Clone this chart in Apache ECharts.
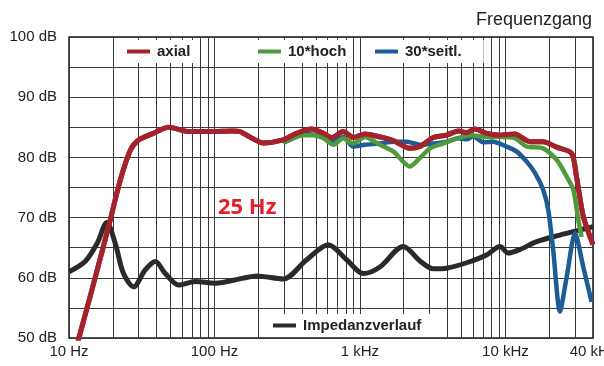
<!DOCTYPE html>
<html>
<head>
<meta charset="utf-8">
<script src="https://cdn.jsdelivr.net/npm/echarts@6/dist/echarts.min.js"></script>
<style>html,body{margin:0;padding:0;background:#fff;}#c{width:604px;height:366px;}</style>
</head>
<body>
<div id="c"></div>
<script>
// ---- data (frequency in Hz, level in dB) ----
const axialFreq = [10, 11.7, 15.2, 19.2, 22.5, 26.4, 30.1, 37.2, 48.4, 66.5, 96, 132, 150, 175, 216, 297, 367, 466, 560, 639, 767, 899, 1081, 1371, 1693, 2206, 2585, 3190, 3943, 4740, 5410, 6170, 7420, 9170, 11600, 14700, 18200, 22500, 28500, 30800, 34300, 40000];
const axialDb   = [44, 50, 60.2, 69.6, 76.2, 81.2, 82.9, 83.9, 85.0, 84.3, 84.3, 84.4, 84.3, 83.4, 82.4, 82.9, 84.0, 84.7, 84.0, 83.3, 84.3, 83.3, 83.9, 83.4, 82.8, 81.5, 81.8, 83.3, 83.7, 84.4, 84.1, 84.7, 84.0, 83.7, 83.9, 82.6, 82.6, 81.7, 80.7, 76.8, 70.2, 65.5];

const hochFreq = [297, 408, 477, 560, 656, 767, 899, 1081, 1371, 1693, 2206, 2585, 3030, 3720, 4740, 5750, 7420, 9170, 11600, 14000, 18200, 22500, 26400, 29300, 31700, 33400];
const hochDb   = [82.5, 83.7, 83.7, 83.2, 82.1, 83.2, 82.3, 83.4, 82.1, 81.0, 78.5, 79.9, 81.5, 82.3, 83.2, 83.7, 83.4, 83.4, 83.2, 81.8, 81.5, 79.6, 76.8, 74.6, 69.6, 66.8];

const seitlFreq = [297, 430, 560, 639, 767, 899, 1081, 1371, 1693, 2100, 2585, 3190, 3943, 4740, 5410, 6000, 7050, 8240, 10200, 11900, 14000, 16000, 18200, 19700, 21300, 23700, 26400, 30100, 34300, 39100];
const seitlDb   = [82.4, 83.9, 83.4, 82.6, 83.4, 81.8, 82.1, 82.3, 82.6, 82.6, 82.1, 82.3, 82.6, 83.2, 83.0, 83.5, 82.5, 82.6, 81.8, 81.0, 79.3, 77.4, 74.6, 71.3, 64.6, 54.4, 60.2, 67.4, 61.8, 56.0];

const impFreq = [10, 12.9, 15.6, 18.2, 20.8, 23.7, 27.8, 33.4, 39.2, 45.9, 56.7, 73.8, 101, 155, 195, 297, 430, 606, 810, 1055, 1371, 1987, 2585, 3190, 3943, 5410, 7420, 9170, 10450, 12600, 16400, 23700, 30800, 40000];
const impDb   = [61.0, 62.7, 65.7, 69.2, 65.7, 60.7, 58.5, 61.3, 62.7, 60.7, 58.8, 59.4, 59.1, 59.9, 60.3, 59.8, 63.0, 65.5, 63.0, 60.7, 61.8, 65.2, 62.8, 61.5, 61.6, 62.5, 63.8, 65.2, 64.1, 64.7, 66.0, 67.1, 67.8, 68.5];

const xTickValues = [10, 100, 1000, 10000, 40000];
const xTickLabels = ['10 Hz', '100 Hz', '1 kHz', '10 kHz', '40 kHz'];
const yTickValues = [50, 60, 70, 80, 90, 100];
const yTickLabels = ['50 dB', '60 dB', '70 dB', '80 dB', '90 dB', '100 dB'];
const extraGridFreqs = [20, 30, 40, 50, 60, 70, 80, 90, 200, 300, 400, 500, 600, 700, 800, 900, 2000, 3000, 4000, 5000, 6000, 7000, 8000, 9000, 20000, 30000];

const pairs = (f, d) => f.map((v, i) => [v, d[i]]);
const FONT = "'Liberation Sans', Arial, sans-serif";
const gridColor = '#3a3a3a';

const chart = echarts.init(document.getElementById('c'), null, {renderer: 'canvas'});

function legendCfg(name, left, top, pad) {
  return {
    data: [{name: name, icon: 'rect'}],
    left: left, top: top, orient: 'horizontal', z: 20,
    itemWidth: 23, itemHeight: 4, itemGap: 0,
    padding: pad, backgroundColor: '#fff',
    selectedMode: false,
    textStyle: {fontFamily: FONT, fontWeight: 'bold', fontSize: 15, color: '#222', padding: [0, 0, 0, 2]}
  };
}

chart.setOption({
  animation: false,
  backgroundColor: '#fff',
  title: {
    text: 'Frequenzgang', right: 7, top: 6,
    textStyle: {fontFamily: FONT, fontWeight: 'normal', fontSize: 18, color: '#222'}
  },
  legend: [
    legendCfg('axial', 118, 40, [4, 4, 4, 9]),
    legendCfg('10*hoch', 248, 40, [4, 3, 4, 10]),
    legendCfg('30*seitl.', 362, 40, [4, 22, 4, 13]),
    legendCfg('Impedanzverlauf', 260, 314, [4, 16, 4, 13])
  ],
  graphic: [{
    type: 'text', left: 218, top: 197, z: 10,
    style: {text: '25 Hz', font: "bold 22px 'Open Sans', sans-serif", fill: '#e3202d'}
  }],
  grid: {left: 69, right: 11, top: 37, bottom: 28, show: true, borderColor: '#1a1a1a', borderWidth: 1.5, backgroundColor: '#fff',
    containLabel: false, outerBoundsMode: 'none'},
  xAxis: {
    type: 'log', logBase: 10, min: 10, max: 40000,
    axisLine: {show: false},
    axisTick: {show: false},
    splitLine: {show: true, lineStyle: {color: gridColor, width: 1}},
    axisLabel: {
      fontFamily: FONT, fontSize: 15, color: '#222', margin: 6,
      showMinLabel: true, showMaxLabel: true,
      formatter: function (v) {
        let best = 0;
        for (let i = 0; i < xTickValues.length; i++) {
          if (Math.abs(Math.log10(v) - Math.log10(xTickValues[i])) < Math.abs(Math.log10(v) - Math.log10(xTickValues[best]))) best = i;
        }
        return Math.abs(Math.log10(v) - Math.log10(xTickValues[best])) < 0.01 ? xTickLabels[best] : '';
      }
    }
  },
  yAxis: {
    type: 'value', min: 50, max: 100, interval: 5,
    axisLine: {show: false},
    axisTick: {show: false},
    splitLine: {show: true, lineStyle: {color: gridColor, width: 1}},
    axisLabel: {
      fontFamily: FONT, fontSize: 15, color: '#222', margin: 12,
      formatter: function (v) {
        const i = yTickValues.indexOf(Math.round(v));
        return (i >= 0 && Math.abs(v - yTickValues[i]) < 0.01) ? yTickLabels[i] : '';
      }
    }
  },
  series: [
    {
      type: 'line', name: 'grid', data: [], silent: true, z: 1,
      markLine: {
        silent: true, z: 1, symbol: ['none', 'none'], label: {show: false},
        lineStyle: {color: gridColor, width: 1, type: 'solid'},
        emphasis: {disabled: true},
        data: extraGridFreqs.map(f => ({xAxis: f}))
      }
    },
    {type: 'line', name: 'Impedanzverlauf', data: pairs(impFreq, impDb), showSymbol: false, smooth: 0.3, z: 3,
      color: '#2a2a2a', lineStyle: {width: 5, color: '#2a2a2a'}},
    {type: 'line', name: 'axial', data: pairs(axialFreq, axialDb), showSymbol: false, smooth: 0.25, z: 3,
      color: '#a3222b', lineStyle: {width: 5, color: '#a3222b'}},
    {type: 'line', name: '30*seitl.', data: pairs(seitlFreq, seitlDb), showSymbol: false, smooth: 0.25, z: 4,
      color: '#1d5c96', lineStyle: {width: 4.5, color: '#1d5c96'}},
    {type: 'line', name: '10*hoch', data: pairs(hochFreq, hochDb), showSymbol: false, smooth: 0.25, z: 5,
      color: '#4f9b3c', lineStyle: {width: 4.5, color: '#4f9b3c'}},
    {type: 'line', name: 'axial', data: pairs(axialFreq, axialDb), showSymbol: false, smooth: 0.25, z: 6,
      color: '#a3222b', lineStyle: {width: 5, color: '#a3222b'}}
  ]
});
</script>
</body>
</html>
